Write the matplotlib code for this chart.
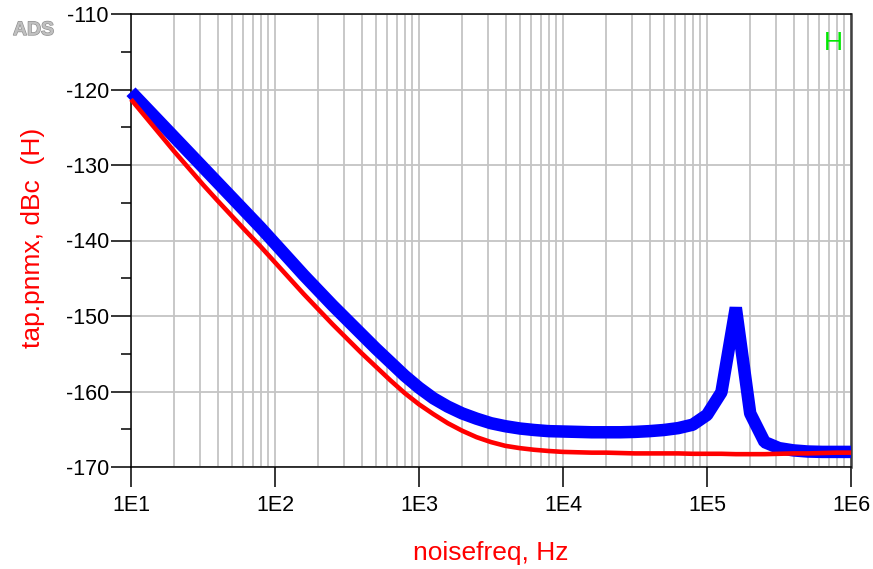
import matplotlib
matplotlib.use('Agg')
import matplotlib.pyplot as plt
import matplotlib.patheffects as pe
from matplotlib.ticker import FixedLocator, LogLocator, NullFormatter, MultipleLocator

plt.rcParams['font.family'] = ['Liberation Sans', 'DejaVu Sans']

# ----------------------------------------------------------------
# data (10 points per decade)
# ----------------------------------------------------------------
noisefreq = [10, 12.59, 15.85, 19.95, 25.12, 31.62, 39.81, 50.12, 63.10, 79.43,
             100, 125.9, 158.5, 199.5, 251.2, 316.2, 398.1, 501.2, 631.0, 794.3,
             1e3, 1259, 1585, 1995, 2512, 3162, 3981, 5012, 6310, 7943,
             1e4, 12589, 15849, 19953, 25119, 31623, 39811, 50119, 63096, 79433,
             1e5, 125893, 158489, 199526, 251189, 316228, 398107, 501187, 630957, 794328,
             1e6]

pnmx_blue = [-120.3, -122.3, -124.3, -126.3, -128.3, -130.3, -132.3, -134.3, -136.3, -138.3,
             -140.4, -142.5, -144.6, -146.6, -148.6, -150.5, -152.4, -154.3, -156.1, -157.9,
             -159.5, -160.9, -162.0, -162.9, -163.6, -164.2, -164.6, -164.9, -165.1, -165.25,
             -165.3, -165.35, -165.4, -165.4, -165.4, -165.35, -165.25, -165.1, -164.85, -164.4,
             -163.1, -160.1, -148.9, -162.9, -166.7, -167.5, -167.8, -167.95, -168.0, -168.0,
             -168.0]

pnmx_red = [-121.3, -123.6, -125.9, -128.2, -130.4, -132.6, -134.7, -136.75, -138.8, -140.8,
            -142.9, -145.0, -147.1, -149.1, -151.1, -153.0, -154.9, -156.7, -158.5, -160.2,
            -161.7, -163.0, -164.2, -165.2, -166.05, -166.7, -167.2, -167.5, -167.72, -167.88,
            -168.0, -168.05, -168.1, -168.1, -168.15, -168.2, -168.2, -168.2, -168.2, -168.25,
            -168.25, -168.25, -168.3, -168.3, -168.3, -168.25, -168.2, -168.2, -168.15, -168.1,
            -168.1]

x_ticks = [1e1, 1e2, 1e3, 1e4, 1e5, 1e6]
x_labels = ['1E1', '1E2', '1E3', '1E4', '1E5', '1E6']
y_ticks = [-110, -120, -130, -140, -150, -160, -170]

fig = plt.figure(figsize=(8.73, 5.69), dpi=100)
ax = fig.add_axes([131/873, 1 - 467/569, 720/873, 453/569])

ax.plot(noisefreq, pnmx_blue, color='#0000ff', lw=9.0, solid_joinstyle='bevel',
        solid_capstyle='butt', clip_on=False, zorder=3)
ax.plot(noisefreq, pnmx_red, color='#ff0000', lw=3.3, solid_joinstyle='round',
        solid_capstyle='butt', clip_on=False, zorder=4)

ax.set_xscale('log')
ax.set_xlim(10, 1e6)
ax.set_ylim(-170, -110)

ax.xaxis.set_major_locator(FixedLocator(x_ticks))
ax.set_xticklabels(x_labels)
ax.xaxis.set_minor_locator(LogLocator(base=10, subs=range(2, 10)))
ax.xaxis.set_minor_formatter(NullFormatter())
ax.yaxis.set_major_locator(FixedLocator(y_ticks))
ax.set_yticklabels([str(v) for v in y_ticks])
ax.yaxis.set_minor_locator(MultipleLocator(5))

# grid: vertical at every decade step, horizontal only at majors
ax.grid(True, which='major', axis='both', color='#c4c4c4', lw=1.3, zorder=0)
ax.grid(True, which='minor', axis='x', color='#c4c4c4', lw=1.3, zorder=0)
ax.set_axisbelow(True)

ax.tick_params(axis='y', which='major', direction='out', length=14.4, width=1.1,
               labelsize=15.5, pad=1.5, right=False)
ax.tick_params(axis='y', which='minor', direction='out', length=7.2, width=1.1, right=False)
ax.tick_params(axis='x', which='major', direction='out', length=14.4, width=1.1,
               labelsize=15.5, pad=6, top=False)
ax.tick_params(axis='x', which='minor', length=0, top=False)

for s in ['left', 'bottom', 'top']:
    ax.spines[s].set_color('black')
    ax.spines[s].set_linewidth(1.1)
ax.spines['right'].set_color('#404040')
ax.spines['right'].set_linewidth(1.8)

# labels
fig.text(491/873, 1 - 560/569, 'noisefreq, Hz', color='#ff0000', fontsize=19,
         ha='center', va='baseline')
fig.text(33/873, 1 - 238/569, 'tap.pnmx, dBc  (H)', color='#ff0000', fontsize=19,
         rotation=90, ha='center', va='center')

fig.text(13/873, 1 - 35/569, 'ADS', color='#c0c0c0', fontsize=14,
         fontweight='bold', ha='left', va='baseline',
         path_effects=[pe.withStroke(linewidth=0.9, foreground='#8c8c8c')])
fig.text(833/873, 1 - 50/569, 'H', color='#00e800', fontsize=19,
         ha='center', va='baseline')

fig.savefig('out.png', dpi=100)
